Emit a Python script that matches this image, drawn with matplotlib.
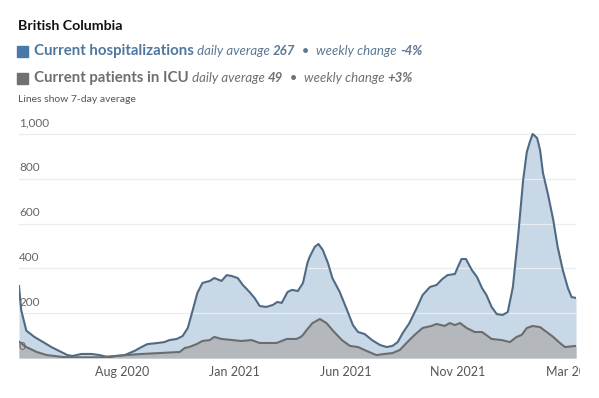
import matplotlib.pyplot as plt
import pandas as pd
from matplotlib.transforms import Bbox, TransformedBbox

# values (7-day averages)
hosp_dates = ['2020-03-13', '2020-03-16', '2020-03-23', '2020-04-03', '2020-04-17', '2020-04-26',
              '2020-05-07', '2020-05-18', '2020-05-25', '2020-06-06', '2020-06-20', '2020-07-01',
              '2020-07-12', '2020-07-25', '2020-08-04', '2020-08-17', '2020-08-27', '2020-09-04',
              '2020-09-18', '2020-09-27', '2020-10-04', '2020-10-14', '2020-10-22', '2020-10-29',
              '2020-11-04', '2020-11-11', '2020-11-18', '2020-11-28', '2020-12-04', '2020-12-14',
              '2020-12-21', '2020-12-28', '2021-01-05', '2021-01-12', '2021-01-21', '2021-01-28',
              '2021-02-04', '2021-02-13', '2021-02-22', '2021-02-28', '2021-03-06', '2021-03-14',
              '2021-03-20', '2021-03-28', '2021-04-04', '2021-04-10', '2021-04-13', '2021-04-20',
              '2021-04-25', '2021-05-01', '2021-05-08', '2021-05-14', '2021-05-24', '2021-06-03',
              '2021-06-11', '2021-06-18', '2021-06-27', '2021-07-07', '2021-07-18', '2021-07-27',
              '2021-08-04', '2021-08-11', '2021-08-18', '2021-08-27', '2021-09-06', '2021-09-14',
              '2021-09-24', '2021-10-03', '2021-10-11', '2021-10-18', '2021-10-28', '2021-11-01',
              '2021-11-06', '2021-11-12', '2021-11-20', '2021-11-27', '2021-12-04', '2021-12-10',
              '2021-12-17', '2021-12-24', '2022-01-01', '2022-01-08', '2022-01-15', '2022-01-22',
              '2022-01-29', '2022-02-03', '2022-02-07', '2022-02-11', '2022-02-17', '2022-02-21',
              '2022-02-25', '2022-03-04', '2022-03-11', '2022-03-17', '2022-03-24', '2022-03-31',
              '2022-04-05', '2022-04-11']
hosp_values = [321, 214, 122, 94, 67, 49,
               31, 13, 9, 18, 18, 13,
               4, 9, 13, 31, 49, 62,
               67, 71, 80, 85, 98, 134,
               205, 290, 335, 344, 357, 344,
               370, 366, 357, 326, 295, 268,
               232, 228, 237, 250, 246, 295,
               304, 299, 335, 424, 451, 496,
               509, 482, 424, 357, 295, 214,
               147, 116, 107, 80, 58, 49,
               54, 71, 112, 156, 223, 281,
               317, 326, 353, 370, 375, 406,
               442, 442, 393, 362, 312, 281,
               228, 196, 192, 205, 317, 540,
               795, 920, 964, 1000, 982, 929,
               826, 728, 616, 496, 393, 312,
               272, 268]

icu_dates = ['2020-03-13', '2020-03-23', '2020-04-06', '2020-04-20', '2020-05-13', '2020-06-02',
             '2020-07-01', '2020-07-21', '2020-08-27', '2020-09-20', '2020-10-18', '2020-10-25',
             '2020-10-31', '2020-11-10', '2020-11-18', '2020-11-28', '2020-12-04', '2020-12-14',
             '2020-12-29', '2021-01-10', '2021-01-24', '2021-02-04', '2021-02-27', '2021-03-13',
             '2021-03-26', '2021-04-01', '2021-04-04', '2021-04-09', '2021-04-17', '2021-04-27',
             '2021-05-06', '2021-05-14', '2021-05-27', '2021-06-07', '2021-06-18', '2021-06-30',
             '2021-07-13', '2021-07-24', '2021-08-04', '2021-08-14', '2021-08-23', '2021-09-03',
             '2021-09-14', '2021-09-26', '2021-10-03', '2021-10-14', '2021-10-21', '2021-10-28',
             '2021-11-04', '2021-11-13', '2021-11-24', '2021-12-04', '2021-12-17', '2021-12-31',
             '2022-01-11', '2022-01-20', '2022-01-27', '2022-02-03', '2022-02-11', '2022-02-21',
             '2022-03-02', '2022-03-11', '2022-03-20', '2022-03-27', '2022-04-11']
icu_values = [73, 49, 27, 13, 4, 3,
              3, 9, 18, 22, 27, 45,
              49, 62, 76, 80, 94, 85,
              80, 76, 80, 67, 67, 85,
              85, 94, 103, 125, 156, 174,
              156, 125, 80, 54, 49, 31,
              13, 18, 22, 36, 67, 103,
              134, 143, 152, 143, 156, 147,
              156, 134, 116, 116, 85, 80,
              71, 94, 103, 134, 143, 138,
              116, 94, 67, 49, 54]

y_ticks = [0, 200, 400, 600, 800, 1000]
y_labels = ['0', '200', '400', '600', '800', '1,000']
x_ticks = ['2020-08-01', '2021-01-01', '2021-06-01', '2021-11-01', '2022-03-01']
x_labels = ['Aug 2020', 'Jan 2021', 'Jun 2021', 'Nov 2021', 'Mar 2022']

plt.rcParams['font.family'] = ['Lato', 'DejaVu Sans']

W, H = 599, 398
fig = plt.figure(figsize=(W / 100, H / 100), dpi=100)
ax = fig.add_axes([19 / W, 40 / H, 557 / W, 228.5 / H])

hx = pd.to_datetime(hosp_dates)
ix = pd.to_datetime(icu_dates)
ax.fill_between(hx, hosp_values, color='#c9d8e6', lw=0, zorder=1)
ax.fill_between(ix, icu_values, color='#b4b7bb', lw=0, zorder=2)
ax.plot(hx, hosp_values, color='#4f6a84', lw=1.5, zorder=4, solid_joinstyle='round')
ax.plot(ix, icu_values, color='#6a6d70', lw=1.5, zorder=4, solid_joinstyle='round')

ax.set_xlim(pd.Timestamp('2020-03-13'), pd.Timestamp('2022-04-11'))
ax.set_ylim(0, 1020)
for s in ax.spines.values():
    s.set_visible(False)

for v, lab in zip(y_ticks, y_labels):
    if v > 0:
        ax.axhline(v, color='#e8edf2', lw=0.9, zorder=3)
    ax.annotate(lab, xy=(0, v), xycoords=('axes fraction', 'data'), xytext=(0, 8),
                textcoords='offset points', ha='left', va='center', fontsize=8.5,
                color='#666666', zorder=5)

ax.set_yticks([])
ax.set_xticks(pd.to_datetime(x_ticks))
ax.set_xticklabels(x_labels, fontsize=9, color='#555555')
ax.tick_params(axis='x', length=0, pad=6)
# the last label runs off the chart and is cut, as in the original
last = ax.xaxis.get_major_ticks()[-1].label1
last.set_ha('left')
last.set_clip_on(True)
last.set_clip_box(TransformedBbox(Bbox([[0, 0], [580 / W, 1]]), fig.transFigure))

# header
renderer = fig.canvas.get_renderer()


def draw_pieces(pieces, x, y):
    for text, kw in pieces:
        t = fig.text(x / W, 1 - y / H, text, va='center', **kw)
        x = t.get_window_extent(renderer).x1
    return x


fig.text(18 / W, 1 - 26 / H, 'British Columbia', fontsize=10.2, fontweight='bold',
         color='#111111', va='center')

blue_txt = '#5c7894'
line2 = [
    ('Current hospitalizations', dict(fontsize=10.8, fontweight='bold', color='#4f77a0')),
    (' daily average ', dict(fontsize=9.5, style='italic', color=blue_txt)),
    ('267', dict(fontsize=9.5, style='italic', fontweight='bold', color=blue_txt)),
    ('  •  ', dict(fontsize=9.5, color=blue_txt)),
    ('weekly change ', dict(fontsize=9.5, style='italic', color=blue_txt)),
    ('-4%', dict(fontsize=9.5, style='italic', fontweight='bold', color=blue_txt)),
]
gray_txt = '#707070'
line3 = [
    ('Current patients in ICU', dict(fontsize=10.8, fontweight='bold', color='#6e6e6e')),
    (' daily average ', dict(fontsize=9.5, style='italic', color=gray_txt)),
    ('49', dict(fontsize=9.5, style='italic', fontweight='bold', color=gray_txt)),
    ('  •  ', dict(fontsize=9.5, color=gray_txt)),
    ('weekly change ', dict(fontsize=9.5, style='italic', color=gray_txt)),
    ('+3%', dict(fontsize=9.5, style='italic', fontweight='bold', color=gray_txt)),
]

fig.patches.append(plt.Rectangle((17 / W, 1 - 57 / H), 11 / W, 11 / H, color='#4a78a8',
                                 transform=fig.transFigure, figure=fig))
fig.patches.append(plt.Rectangle((17 / W, 1 - 84 / H), 11 / W, 11 / H, color='#707070',
                                 transform=fig.transFigure, figure=fig))
draw_pieces(line2, 34, 51)
draw_pieces(line3, 34, 78)
fig.text(18 / W, 1 - 99 / H, 'Lines show 7-day average', fontsize=7.5, color='#555555',
         va='center')

fig.savefig('out.png', dpi=100)
